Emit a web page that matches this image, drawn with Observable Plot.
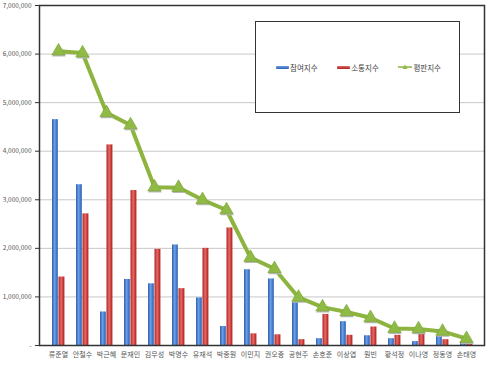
<!DOCTYPE html>
<html>
<head>
<meta charset="utf-8">
<script src="https://cdn.jsdelivr.net/npm/d3@7"></script>
<script src="https://cdn.jsdelivr.net/npm/@observablehq/plot@0.6"></script>
<style>
  html, body { margin: 0; padding: 0; background: #fff; }
  #wrap { position: relative; width: 500px; height: 367px; font-family: "Noto Sans CJK KR", "Noto Sans", sans-serif; }
  #legend { position: absolute; left: 255px; top: 21px; width: 205px; height: 92px; border: 1.5px solid #333; background: #fff;
            display: flex; align-items: center; justify-content: space-between; font-size: 7.5px; color: #444; padding: 0 18px 0 20px; box-sizing: border-box; }
  .item { display: flex; align-items: center; }
  .sw { width: 13px; height: 3px; margin-right: 1px; border-radius: 1px; }
</style>
</head>
<body>
<div id="wrap">
  <div id="chart"></div>
  <div id="legend"></div>
</div>
<script>
const categories = ["류준열","안철수","박근혜","문재인","김무성","박명수","유재석","박종원","이민지","권오중","공현주","손호준","이상엽","원빈","황석정","이나영","정동영","손태영"];
const seriesNames = ["참여지수","소통지수","평판지수"];
const participation = [4650000,3310000,690000,1360000,1270000,2070000,980000,390000,1560000,1370000,890000,140000,490000,200000,140000,80000,190000,70000];
const communication = [1410000,2710000,4130000,3190000,1980000,1170000,2000000,2420000,240000,220000,120000,640000,210000,380000,210000,250000,120000,50000];
const reputation = [6060000,6020000,4790000,4540000,3260000,3250000,3000000,2790000,1810000,1580000,990000,790000,690000,570000,350000,340000,290000,140000];
const yTicks = [0,1000000,2000000,3000000,4000000,5000000,6000000,7000000];

const rows = categories.map((name, i) => ({name, p: participation[i], c: communication[i], r: reputation[i]}));
const fmt = d => d === 0 ? "-" : d3.format(",")(d);

const svg = Plot.plot({
  width: 500,
  height: 367,
  marginLeft: 39,
  marginRight: 16,
  marginTop: 5,
  marginBottom: 22,
  style: {fontFamily: '"Noto Sans CJK KR", "Noto Sans", sans-serif', background: "#fff"},
  x: {type: "band", domain: categories, padding: 0, label: null},
  y: {domain: [0, 7000000], label: null},
  marks: [
    Plot.gridY(yTicks, {stroke: "#c8c8c8", strokeOpacity: 1, strokeWidth: 1}),
    Plot.barY(rows, {x: "name", y: "p", fill: "url(#gBlue)", insetLeft: 6, insetRight: 12.2}),
    Plot.barY(rows, {x: "name", y: "c", fill: "url(#gRed)", insetLeft: 12.5, insetRight: 5.6}),
    Plot.line(rows, {x: "name", y: "r", stroke: "#8db43e", strokeWidth: 4, strokeLinejoin: "round"}),
    Plot.dot(rows, {x: "name", y: "r", symbol: "triangle", r: 5, fill: "#b9b9b9", dy: 1.5, dx: 0.5}),
    Plot.dot(rows, {x: "name", y: "r", symbol: "triangle", r: 5, fill: "#8fba45", stroke: "#7aa334", strokeWidth: 0.6}),
    Plot.axisY(yTicks, {tickFormat: fmt, tickSize: 4, tickPadding: 4, fontSize: 6.5, fill: "#555", stroke: "#333", label: null}),
    Plot.axisX({tickSize: 0, tickPadding: 7, fontSize: 7, fill: "#555", label: null}),
    Plot.frame({stroke: "#333", strokeWidth: 1.5})
  ]
});

const defs = d3.select(svg).insert("defs", ":first-child");
function grad(id, stops) {
  const g = defs.append("linearGradient").attr("id", id).attr("x1", 0).attr("x2", 1).attr("y1", 0).attr("y2", 0);
  stops.forEach(([o, c]) => g.append("stop").attr("offset", o).attr("stop-color", c));
}
grad("gBlue", [[0, "#2d5fae"], [0.45, "#6d9fe6"], [0.7, "#4b82d6"], [1, "#2a5aa6"]]);
grad("gRed", [[0, "#a82323"], [0.45, "#e76a66"], [0.7, "#d24340"], [1, "#a52121"]]);

document.getElementById("chart").appendChild(svg);

const legend = document.getElementById("legend");
const colors = ["linear-gradient(#6d9fe6,#2d5fae)", "linear-gradient(#e76a66,#a82323)", null];
seriesNames.forEach((s, i) => {
  const item = document.createElement("div");
  item.className = "item";
  if (colors[i]) {
    item.innerHTML = `<div class="sw" style="background:${colors[i]}"></div><span>${s}</span>`;
  } else {
    item.innerHTML = `<svg width="14" height="8" style="margin-right:1px"><line x1="0" y1="4" x2="14" y2="4" stroke="#8db43e" stroke-width="1.5"/><path d="M7,1.5 L9.5,6 L4.5,6 Z" fill="#8fba45"/></svg><span>${s}</span>`;
  }
  legend.appendChild(item);
});
</script>
</body>
</html>
